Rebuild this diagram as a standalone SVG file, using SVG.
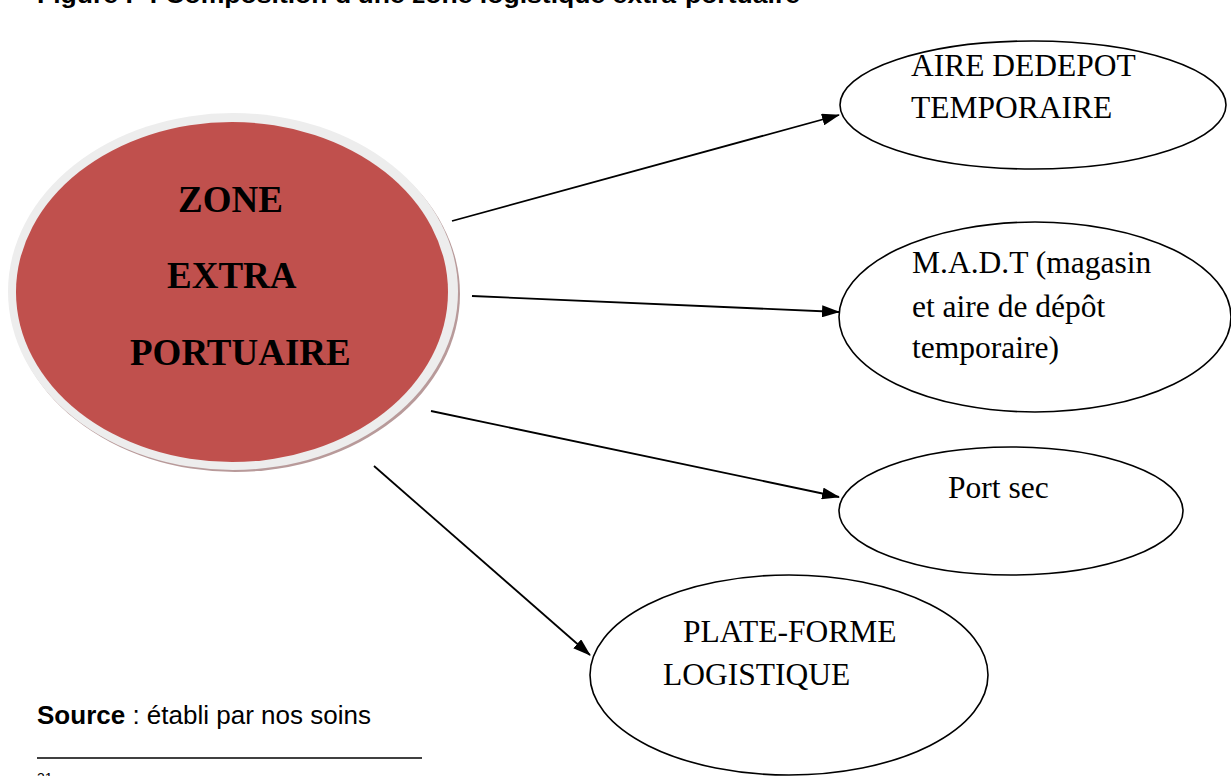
<svg xmlns="http://www.w3.org/2000/svg" width="1231" height="776" viewBox="0 0 1231 776">
<style>
.node ellipse.out{fill:#fff;stroke:#000;stroke-width:1.6}
.lbl{font-family:"Liberation Serif","Times New Roman",serif;font-size:31.5px;fill:#000}
.big{font-family:"Liberation Serif","Times New Roman",serif;font-size:37px;font-weight:bold;fill:#000}
.conn line{stroke:#000;stroke-width:1.8;marker-end:url(#ah)}
.cal{font-family:"Liberation Sans",Arial,sans-serif;fill:#000}
</style>
<defs>
<marker id="ah" markerWidth="18" markerHeight="12" refX="17" refY="6" orient="auto" markerUnits="userSpaceOnUse">
<path d="M0,0 L18,6 L0,12 Z" fill="#000"/>
</marker>
</defs>
<rect width="1231" height="776" fill="#fff"/>
<text class="cal" x="37" y="3" font-size="24" font-weight="bold" textLength="763" lengthAdjust="spacingAndGlyphs">Figure I- : Composition d'une zone logistique extra-portuaire</text>

<g id="zone">
<ellipse cx="235" cy="294" rx="225" ry="178" fill="#b89a9a"/>
<ellipse cx="233" cy="291.5" rx="225" ry="178.5" fill="#ededed"/>
<ellipse cx="232" cy="292" rx="216" ry="170" fill="#c0504d"/>
<text class="big" x="178" y="212">ZONE</text>
<text class="big" x="167" y="288">EXTRA</text>
<text class="big" x="130" y="365">PORTUAIRE</text>
</g>

<g id="n-aire" class="node">
<ellipse class="out" cx="1033" cy="105" rx="193" ry="64"/>
<text class="lbl" x="911" y="76">AIRE DEDEPOT</text>
<text class="lbl" x="911" y="118">TEMPORAIRE</text>
</g>

<g id="n-madt" class="node">
<ellipse class="out" cx="1035" cy="317" rx="196" ry="95"/>
<text class="lbl" x="912" y="273">M.A.D.T (magasin</text>
<text class="lbl" x="912" y="317">et aire de dépôt</text>
<text class="lbl" x="912" y="358">temporaire)</text>
</g>

<g id="n-port" class="node">
<ellipse class="out" cx="1011" cy="511" rx="172" ry="64"/>
<text class="lbl" x="948" y="498">Port sec</text>
</g>

<g id="n-plate" class="node">
<ellipse class="out" cx="789" cy="675" rx="199" ry="100"/>
<text class="lbl" x="683" y="642">PLATE-FORME</text>
<text class="lbl" x="663" y="685">LOGISTIQUE</text>
</g>

<g id="connectors" class="conn">
<line x1="452" y1="221" x2="839" y2="115"/>
<line x1="472" y1="296" x2="839" y2="312"/>
<line x1="431" y1="411" x2="839" y2="497"/>
<line x1="374" y1="466" x2="590" y2="655"/>
</g>

<text class="cal" x="37" y="724" font-size="26" textLength="334" lengthAdjust="spacingAndGlyphs"><tspan font-weight="bold">Source</tspan> : établi par nos soins</text>
<line x1="37" y1="758" x2="422" y2="758" stroke="#000" stroke-width="1.6"/>
<text class="cal" x="37" y="783" font-size="14">31</text>
</svg>
